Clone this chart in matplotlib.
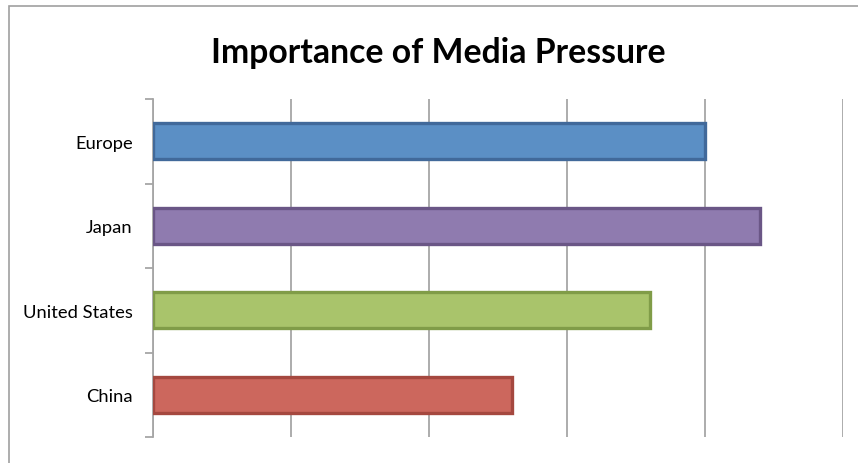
import matplotlib.pyplot as plt
from matplotlib.patches import Rectangle
import numpy as np

# data (top to bottom)
regions = ['Europe', 'Japan', 'United States', 'China']
importance = [4.0, 4.4, 3.6, 2.6]
fill_colors = ['#5B8FC5', '#8F7BAF', '#A9C46B', '#CC675D']
edge_colors = ['#41699A', '#6A5686', '#809C48', '#A5483F']

plt.rcParams['font.family'] = ['Lato', 'DejaVu Sans']

fig = plt.figure(figsize=(8.58, 4.64), dpi=100)

# outer chart frame (cut off at right/bottom like the screenshot)
frame = Rectangle((9 / 858, -0.05), 1.0, 1 - 7 / 464 + 0.05,
                  transform=fig.transFigure, fill=False,
                  edgecolor='#A0A0A0', linewidth=1.2)
fig.patches.append(frame)

ax = fig.add_axes([153 / 858, 1 - 438 / 464, (843 - 153) / 858, (438 - 100) / 464])

y = np.arange(len(regions))[::-1]
ax.barh(y, importance, height=0.43, color=fill_colors,
        edgecolor=edge_colors, linewidth=2.4, zorder=3)

ax.set_xlim(0, 5)
ax.set_ylim(-0.5, len(regions) - 0.5)
ax.set_xticks(np.arange(0, 6, 1))
ax.set_xticklabels([])
ax.tick_params(axis='x', length=0)
ax.grid(axis='x', color='#A6A6A6', linewidth=1.3, zorder=0)

ax.set_yticks(y)
ax.set_yticklabels(regions, fontsize=13.2)
ax.tick_params(axis='y', which='major', length=0, pad=14.5)
ax.set_yticks(np.arange(-0.5, len(regions), 1), minor=True)
ax.tick_params(axis='y', which='minor', length=6, color='#A6A6A6', width=1.3)

for side in ['top', 'right', 'bottom']:
    ax.spines[side].set_visible(False)
ax.spines['left'].set_color('#A6A6A6')
ax.spines['left'].set_linewidth(1.3)

fig.text(438 / 858, 1 - 53 / 464, 'Importance of Media Pressure',
         ha='center', va='center', fontsize=24.3, fontweight='bold')

fig.savefig('out.png', dpi=100)
